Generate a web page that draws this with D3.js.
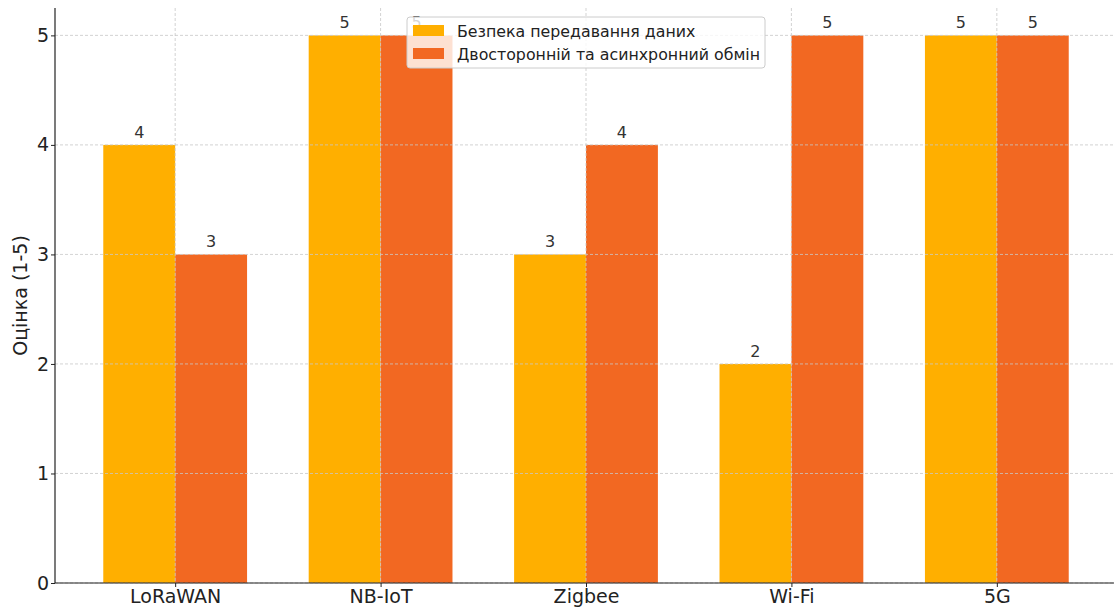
<!DOCTYPE html>
<html><head><meta charset="utf-8">
<script src="https://cdn.jsdelivr.net/npm/d3@7"></script>
<style>body{margin:0;background:#fff}svg{display:block}text{font-family:"DejaVu Sans",sans-serif}</style>
</head><body><svg id="c" width="1114" height="607"></svg>
<script>
const categories = ["LoRaWAN","NB-IoT","Zigbee","Wi-Fi","5G"];
const seriesNames = ["Безпека передавання даних","Двосторонній та асинхронний обмін"];
const security = [4,5,3,2,5];
const duplex = [3,5,4,5,5];
const yTicks = [0,1,2,3,4,5];
const colors = ["#FFAF00","#F26822"];

(function(){
const svg = d3.select("#c");
const mL = 55, mR = 1117, mT = 8, mB = 583;
const x = d3.scaleLinear().domain([-0.585, 4.585]).range([mL, mR]);
const y = d3.scaleLinear().domain([0, 5.25]).range([mB, mT]);
const bw = 0.35;
const series = [security, duplex];

series.forEach((vals, s) => {
  svg.append("g").selectAll("rect").data(vals).join("rect")
    .attr("x", (d,i) => x(i + (s===0 ? -bw : 0)))
    .attr("width", x(bw) - x(0))
    .attr("y", d => y(d))
    .attr("height", d => y(0) - y(d))
    .attr("fill", colors[s]);
});

const grid = svg.append("g").attr("stroke","#c8c8c8").attr("stroke-width",0.8).attr("stroke-dasharray","3,2");
grid.selectAll("line.h").data(yTicks).join("line").attr("class","h")
  .attr("x1", mL).attr("x2", mR).attr("y1", d=>y(d)).attr("y2", d=>y(d));
grid.selectAll("line.v").data(categories).join("line").attr("class","v")
  .attr("x1", (d,i)=>x(i)).attr("x2", (d,i)=>x(i)).attr("y1", mT).attr("y2", mB);

series.forEach((vals, s) => {
  svg.append("g").selectAll("text").data(vals).join("text")
    .attr("x", (d,i) => x(i + (s===0 ? -bw/2 : bw/2)))
    .attr("y", d => y(d) - 7)
    .attr("text-anchor","middle").attr("font-size",16).attr("fill","#333")
    .text(d => d);
});

const yAxis = d3.axisLeft(y).tickValues(yTicks).tickSize(4).tickPadding(2).tickFormat(d3.format("d"));
const gy = svg.append("g").attr("transform",`translate(${mL},0)`).call(yAxis);
gy.select(".domain").attr("d",`M0,${mT}V${mB}`).attr("stroke","#222").attr("stroke-width",1.2);
gy.selectAll(".tick line").attr("stroke","#222");
gy.selectAll(".tick text").attr("font-size",19).attr("fill","#222").attr("font-family","DejaVu Sans, sans-serif");

const xAxis = d3.axisBottom(x).tickValues(d3.range(categories.length)).tickSize(4).tickPadding(3).tickFormat(i=>categories[i]);
const gx = svg.append("g").attr("transform",`translate(0,${mB})`).call(xAxis);
gx.select(".domain").attr("d",`M${mL},0H${mR}`).attr("stroke","#222").attr("stroke-width",1.2);
gx.selectAll(".tick line").attr("stroke","#222");
gx.selectAll(".tick text").attr("font-size",19).attr("fill","#222").attr("font-family","DejaVu Sans, sans-serif");

svg.append("text").attr("transform",`translate(27,${(mT+mB)/2}) rotate(-90)`)
  .attr("text-anchor","middle").attr("font-size",19).attr("fill","#222").text("Оцінка (1-5)");

const lg = svg.append("g").attr("transform","translate(407,17)");
lg.append("rect").attr("width",358).attr("height",51).attr("rx",3)
  .attr("fill","#fff").attr("fill-opacity",0.8).attr("stroke","#ccc").attr("stroke-width",1);
seriesNames.forEach((n,i)=>{
  lg.append("rect").attr("x",6).attr("y",8+i*23).attr("width",31).attr("height",11).attr("fill",colors[i]);
  lg.append("text").attr("x",50).attr("y",19.5+i*23).attr("font-size",15.8).attr("fill","#222").text(n);
});
})();
</script></body></html>
